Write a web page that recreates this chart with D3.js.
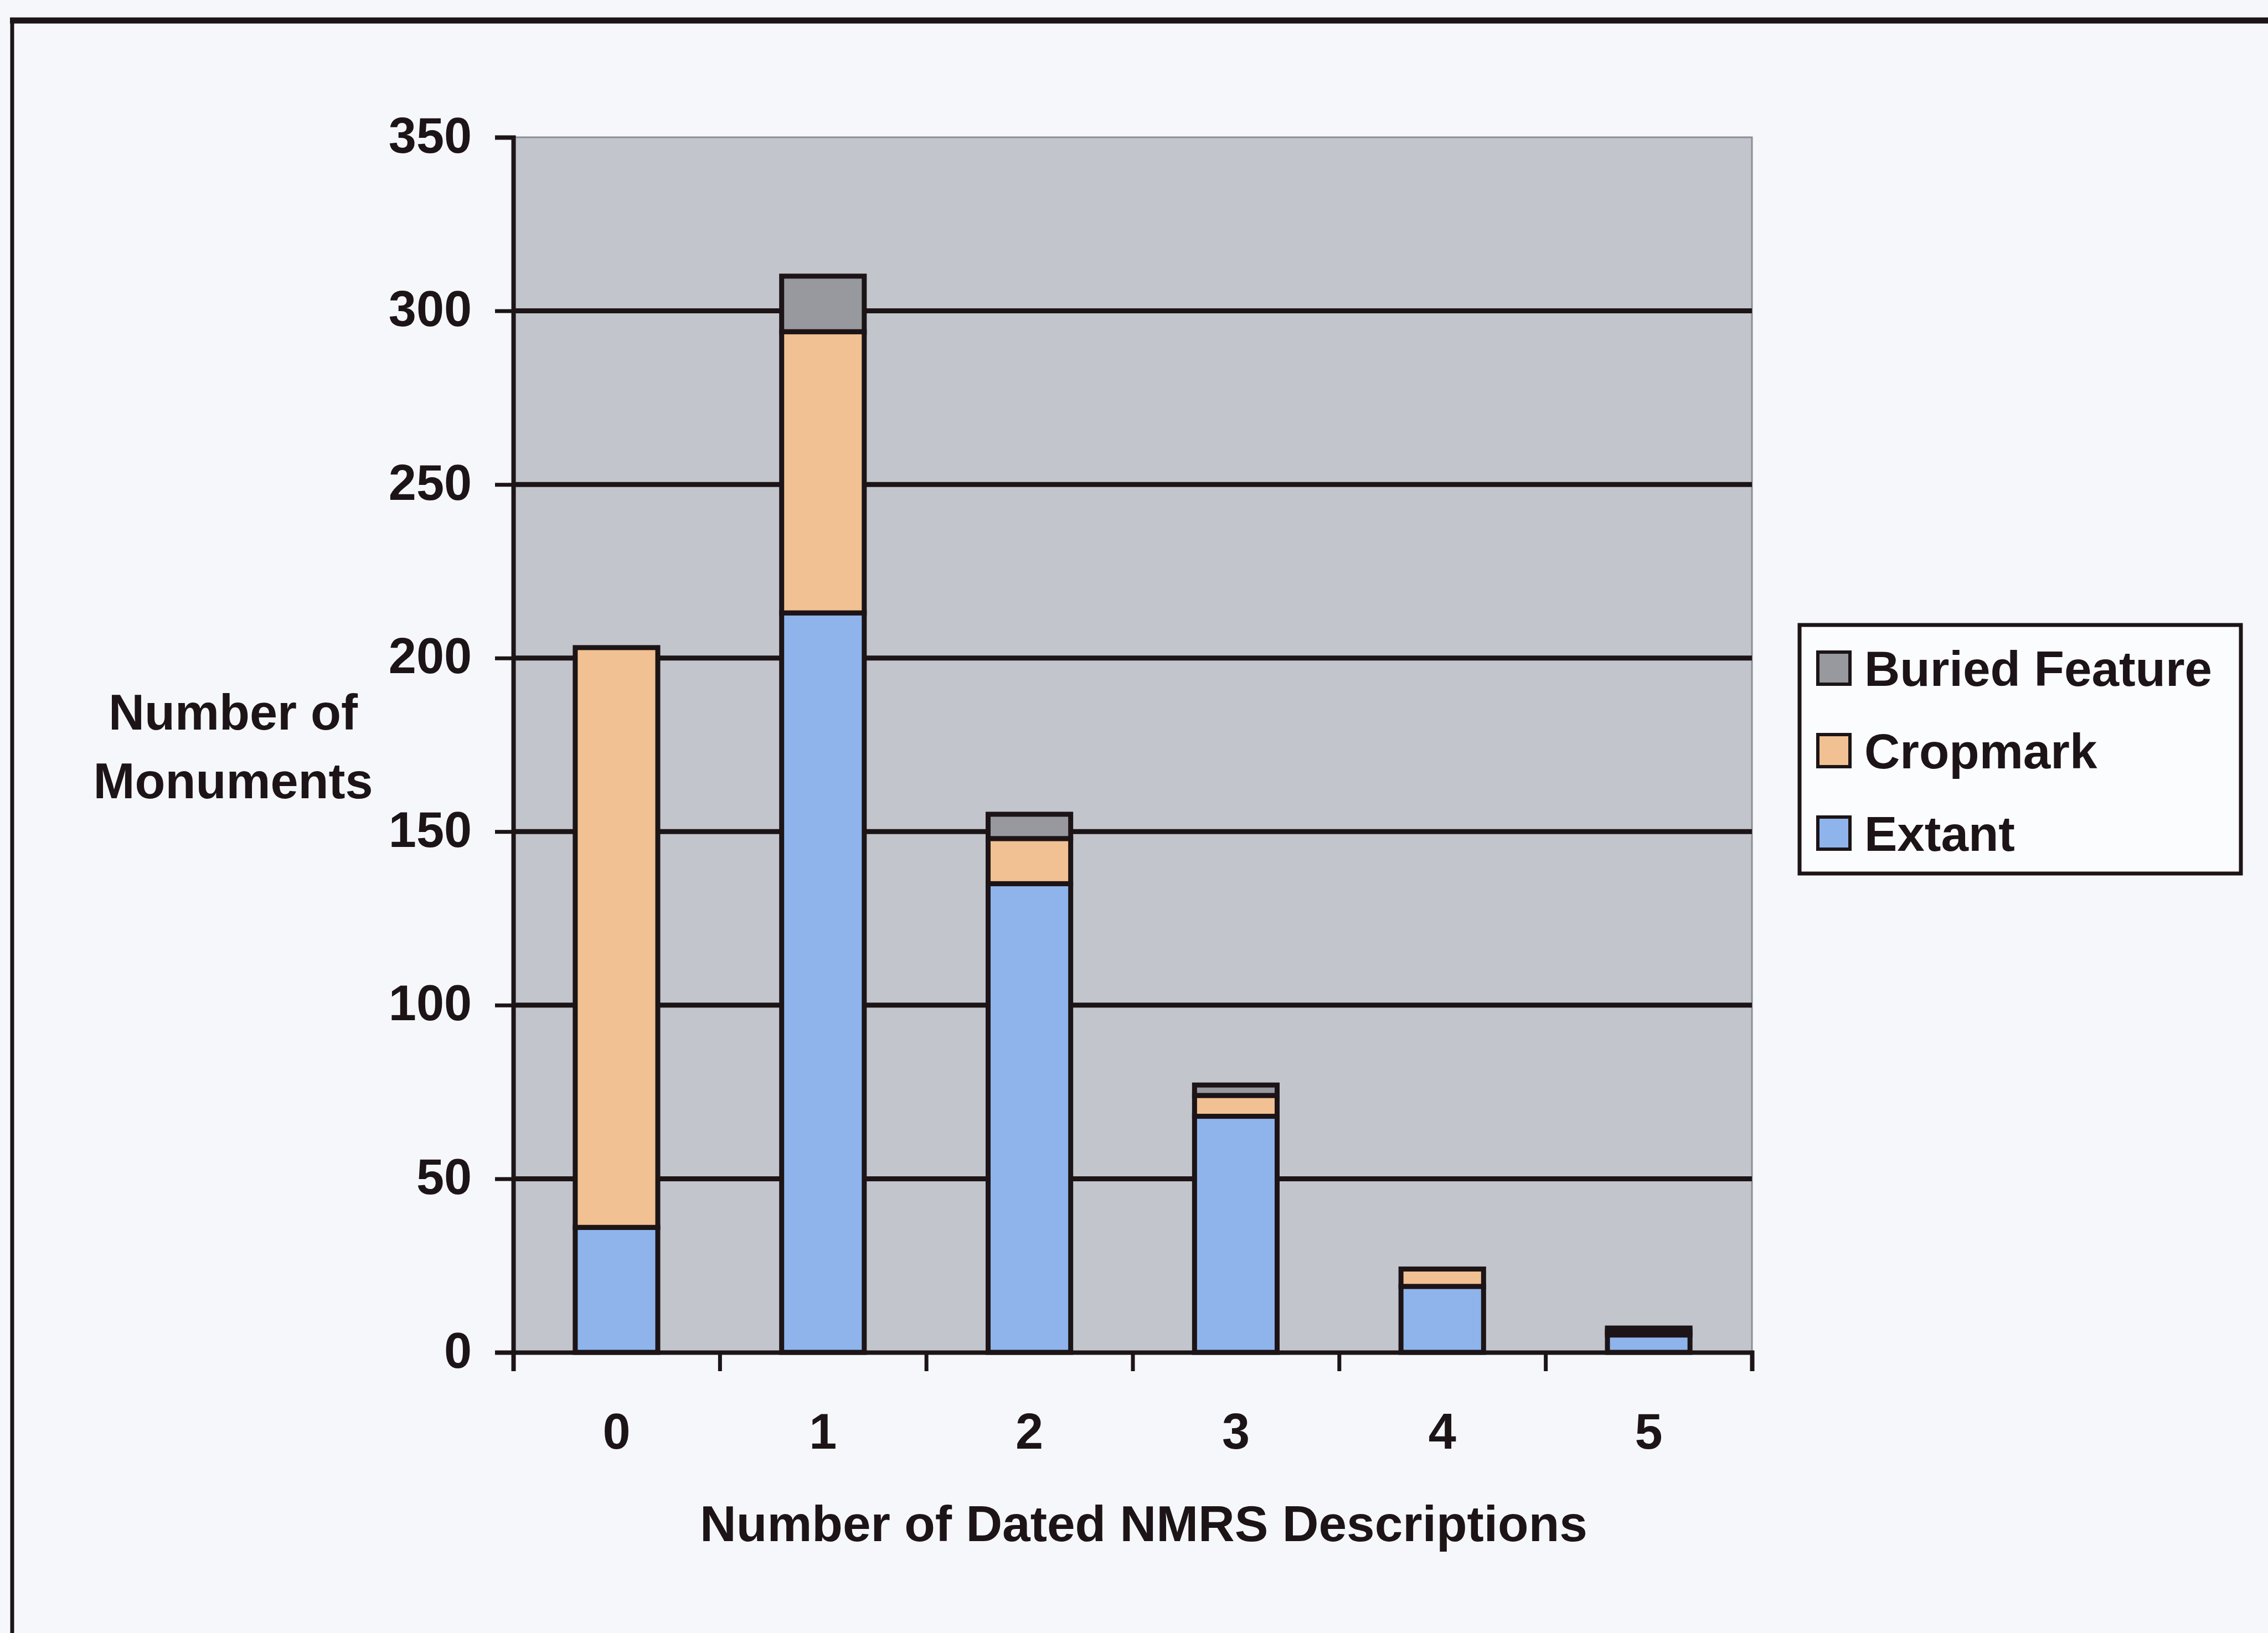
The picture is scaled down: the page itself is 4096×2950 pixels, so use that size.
<!DOCTYPE html>
<html>
<head>
<meta charset="utf-8">
<script src="https://cdn.jsdelivr.net/npm/d3@7"></script>
<style>
  html, body { margin: 0; padding: 0; background: #f5f7fb; }
  svg { display: block; }
  text { font-family: "Liberation Sans", Arial, Helvetica, sans-serif; font-weight: bold; fill: #1c1416; }
</style>
</head>
<body>
<svg id="chart" width="4096" height="2950"></svg>
<script>
// Monuments by number of dated NMRS descriptions, stacked by condition
const categories = ["0", "1", "2", "3", "4", "5"];
const extant   = [36, 213, 135, 68, 19, 5];
const cropmark = [167, 81, 13, 6, 5, 1];
const buried   = [0, 16, 7, 3, 0, 1];
const seriesNames = ["Extant", "Cropmark", "Buried Feature"];
const legendOrder = ["Buried Feature", "Cropmark", "Extant"];
const yTicks = [0, 50, 100, 150, 200, 250, 300, 350];

const colors = {
  "Extant": "#8fb4ec",
  "Cropmark": "#f1c193",
  "Buried Feature": "#97999f"
};
const ink = "#1c1416";

const svg = d3.select("#chart");
const W = 4096, H = 2950;

// page background and outer frame (top and left edges)
svg.append("rect").attr("width", W).attr("height", H).attr("fill", "#f5f7fb");
svg.append("line").attr("x1", 18).attr("x2", W).attr("y1", 37).attr("y2", 37)
  .attr("stroke", ink).attr("stroke-width", 11);
svg.append("line").attr("x1", 22).attr("x2", 22).attr("y1", 33).attr("y2", H)
  .attr("stroke", ink).attr("stroke-width", 7);

// plot area
const plot = { left: 927, right: 3164, top: 248, bottom: 2443 };

const y = d3.scaleLinear().domain([0, 350]).range([plot.bottom, plot.top]);
const x = d3.scaleBand().domain(categories)
  .range([plot.left, plot.right]).paddingInner(0.6).paddingOuter(0.3);
const xEdge = d3.scaleLinear().domain([0, categories.length]).range([plot.left, plot.right]);

svg.append("rect")
  .attr("x", plot.left).attr("y", plot.top)
  .attr("width", plot.right - plot.left).attr("height", plot.bottom - plot.top)
  .attr("fill", "#c2c5cc").attr("stroke", "#8c8e94").attr("stroke-width", 3);

// horizontal gridlines
svg.append("g").selectAll("line")
  .data(yTicks.filter(v => v > 0 && v < 350))
  .join("line")
  .attr("x1", plot.left).attr("x2", plot.right)
  .attr("y1", d => y(d)).attr("y2", d => y(d))
  .attr("stroke", ink).attr("stroke-width", 9);

// stacked bars
const rows = categories.map((c, i) => ({
  cat: c, "Extant": extant[i], "Cropmark": cropmark[i], "Buried Feature": buried[i]
}));
const stacked = d3.stack().keys(seriesNames)(rows);

svg.append("g").selectAll("g")
  .data(stacked)
  .join("g")
  .attr("fill", d => colors[d.key])
  .selectAll("rect")
  .data(d => d.filter(s => s[1] - s[0] > 0))
  .join("rect")
  .attr("x", d => x(d.data.cat))
  .attr("width", x.bandwidth())
  .attr("y", d => y(d[1]))
  .attr("height", d => y(d[0]) - y(d[1]))
  .attr("stroke", ink).attr("stroke-width", 9);

// y axis
const yAxis = svg.append("g")
  .attr("transform", `translate(${plot.left},0)`)
  .call(d3.axisLeft(y).tickValues(yTicks).tickSize(33).tickPadding(42).tickFormat(d3.format("d")));
yAxis.select(".domain").attr("stroke", ink).attr("stroke-width", 8);
yAxis.selectAll(".tick line").attr("stroke", ink).attr("stroke-width", 7);
yAxis.selectAll(".tick text").attr("font-size", 90).attr("dy", "0.3em").style("fill", ink);

// x axis: boundary ticks between categories
const xAxisEdges = svg.append("g")
  .attr("transform", `translate(0,${plot.bottom})`)
  .call(d3.axisBottom(xEdge).tickValues(d3.range(categories.length + 1)).tickSize(34).tickFormat(""));
xAxisEdges.select(".domain").attr("stroke", ink).attr("stroke-width", 8);
xAxisEdges.selectAll(".tick line").attr("stroke", ink).attr("stroke-width", 7);

// x axis: category labels
const xAxisLabels = svg.append("g")
  .attr("transform", `translate(0,${plot.bottom})`)
  .call(d3.axisBottom(x).tickSize(0).tickPadding(174));
xAxisLabels.select(".domain").remove();
xAxisLabels.selectAll(".tick text").attr("font-size", 90).attr("dy", "0").style("fill", ink);

// axis titles
svg.append("text")
  .attr("x", (plot.left + plot.right) / 2 + 20).attr("y", 2784)
  .attr("text-anchor", "middle").attr("font-size", 91)
  .text("Number of Dated NMRS Descriptions");

const yTitle = svg.append("text")
  .attr("text-anchor", "middle").attr("font-size", 90);
yTitle.append("tspan").attr("x", 421).attr("y", 1318).text("Number of");
yTitle.append("tspan").attr("x", 421).attr("y", 1442).text("Monuments");

// legend
const legend = { x: 3250, y: 1129, w: 797, h: 449 };
svg.append("rect")
  .attr("x", legend.x).attr("y", legend.y).attr("width", legend.w).attr("height", legend.h)
  .attr("fill", "#fbfcfe").attr("stroke", ink).attr("stroke-width", 7);

const rowY = d3.scalePoint().domain(legendOrder).range([legend.y + 78, legend.y + 376]);
const items = svg.append("g").selectAll("g")
  .data(legendOrder)
  .join("g")
  .attr("transform", d => `translate(${legend.x + 33},${rowY(d)})`);
items.append("rect")
  .attr("x", 0).attr("y", -29).attr("width", 58).attr("height", 58)
  .attr("fill", d => colors[d]).attr("stroke", ink).attr("stroke-width", 6);
items.append("text")
  .attr("x", 84).attr("y", 0).attr("dy", "0.36em")
  .attr("font-size", 89)
  .text(d => d);
</script>
</body>
</html>
